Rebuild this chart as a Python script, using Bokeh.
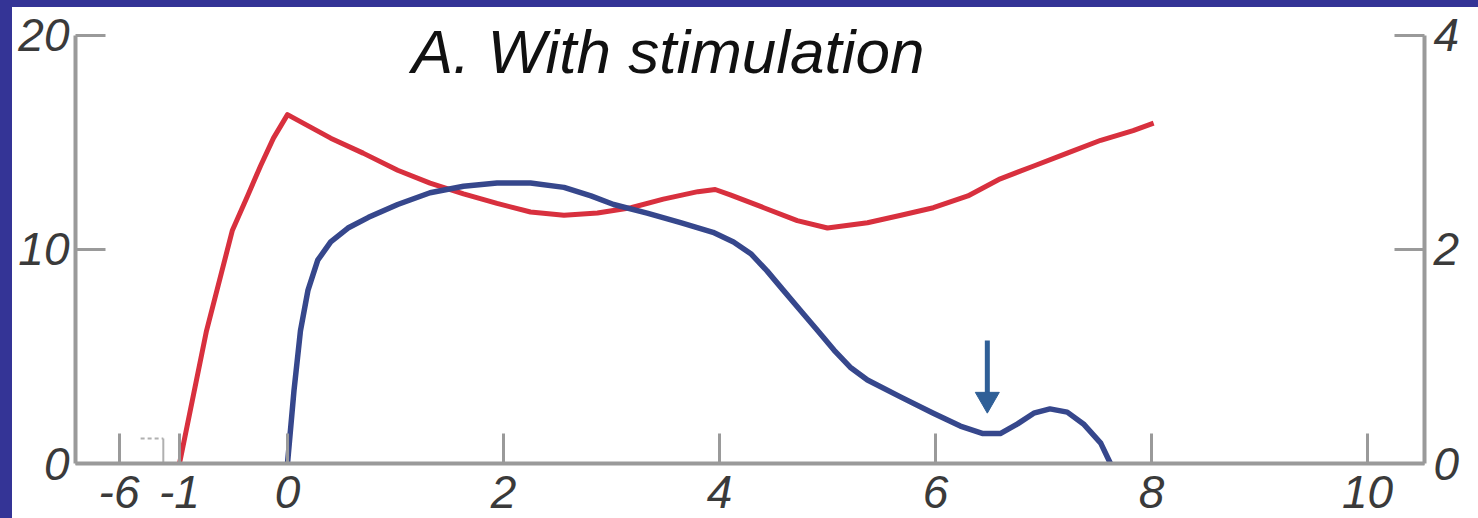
from bokeh.plotting import figure
from bokeh.models import Range1d, LinearAxis, FixedTicker, Spacer
from bokeh.core.properties import value
from bokeh.layouts import row, column
from bokeh.embed import file_html
from bokeh.resources import INLINE

# Red trace (left axis, 0-20), by day
red_days = [-1.0, -0.75, -0.51, -0.37, -0.25, -0.13, 0.0, 0.4, 0.7, 1.02,
            1.32, 1.63, 1.94, 2.25, 2.56, 2.87, 3.18, 3.48, 3.8, 3.96, 4.1, 4.41, 4.72, 5.0,
            5.37, 5.68, 5.98, 6.3, 6.6, 6.91, 7.22, 7.53, 7.83, 8.02]
red_vals = [0.0, 6.2, 10.9, 12.5, 13.9, 15.2, 16.3, 15.2, 14.5, 13.7,
            13.1, 12.6, 12.15, 11.75, 11.6, 11.7, 11.95, 12.35, 12.7, 12.8, 12.55, 11.95, 11.35, 11.0,
            11.25, 11.6, 11.95, 12.5, 13.3, 13.9, 14.5, 15.1, 15.55, 15.9]

# Blue trace (right axis, 0-4), by day
blue_days = [0.0, 0.06, 0.12, 0.19, 0.28, 0.4, 0.56, 0.75, 1.02, 1.32, 1.63, 1.94, 2.25,
             2.56, 2.81, 3.02, 3.33, 3.64, 3.94, 4.13, 4.29, 4.44, 4.59, 4.75, 4.91, 5.06,
             5.21, 5.37, 5.68, 5.98, 6.23, 6.44, 6.6, 6.76, 6.91, 7.06, 7.22, 7.37, 7.53, 7.62]
blue_vals = [0.0, 0.68, 1.24, 1.62, 1.9, 2.07, 2.2, 2.3, 2.42, 2.53, 2.59, 2.62, 2.62,
             2.58, 2.5, 2.42, 2.34, 2.25, 2.16, 2.07, 1.96, 1.8, 1.62, 1.43, 1.24, 1.06,
             0.9, 0.78, 0.62, 0.47, 0.35, 0.28, 0.28, 0.37, 0.47, 0.51, 0.48, 0.37, 0.19, 0.0]

# Marker arrow pointing at the dip of the blue trace (right-axis units)
arrow_day = 6.48
arrow_from = 1.15
arrow_to = 0.5

# Tick positions and labels (axis is broken between -6 and -1)
x_ticks = [-1.56, -1, 0, 2, 4, 6, 8, 10]
x_labels = ["-6", "-1", "0", "2", "4", "6", "8", "10"]
left_ticks = [0, 10, 20]
right_ticks = [0, 2, 4]

TITLE = "A. With stimulation"
FONT = "Liberation Sans"
AXIS = "#9a9a9a"
LABEL = "#3a3a3a"
FRAME_BLUE = "#343496"
ARROW = "#2f5f97"

# the plotting area runs a little above the top tick so the title can sit there
LEFT_MAX, RIGHT_MAX = 20, 4
Y_TOP = 21.07

p = figure(width=1466, height=511, output_backend="svg", toolbar_location=None,
           x_range=Range1d(-1.963, 10.528), y_range=Range1d(0, Y_TOP),
           min_border_left=63, min_border_right=54, min_border_top=5, min_border_bottom=55)
p.outline_line_color = None
p.grid.visible = False
p.background_fill_color = "white"
p.border_fill_color = "white"

p.extra_y_ranges = {"right": Range1d(0, Y_TOP * RIGHT_MAX / LEFT_MAX)}
right_axis = LinearAxis(y_range_name="right")
p.add_layout(right_axis, "right")

for ax in [p.xaxis[0], p.yaxis[0], right_axis]:
    ax.axis_line_color = AXIS
    ax.axis_line_width = 4
    ax.major_tick_line_color = AXIS
    ax.major_tick_line_width = 3
    ax.major_tick_out = 0
    ax.major_tick_in = 30
    ax.minor_tick_line_color = None
    ax.major_label_text_font = FONT
    ax.major_label_text_font_style = "italic"
    ax.major_label_text_font_size = "46px"
    ax.major_label_text_color = LABEL

p.xaxis.ticker = FixedTicker(ticks=x_ticks)
p.xaxis.major_label_overrides = {t: s for t, s in zip(x_ticks, x_labels)}
p.xaxis.major_label_standoff = 12
p.yaxis[0].ticker = FixedTicker(ticks=left_ticks)
p.yaxis[0].bounds = (0, LEFT_MAX)
p.yaxis[0].major_label_standoff = 6
right_axis.ticker = FixedTicker(ticks=right_ticks)
right_axis.bounds = (0, RIGHT_MAX)
right_axis.major_label_standoff = 9

# axis break mark near the left end of the time axis
p.line(x=[-1.36, -1.15], y=[1.17, 1.17], line_color="#b0b0b0", line_width=2, line_dash="4 3")
p.segment(x0=[-1.15], y0=[0], x1=[-1.15], y1=[1.17], line_color="#b0b0b0", line_width=2)

p.line(red_days, red_vals, line_color="#d8303e", line_width=5, line_join="round")
p.line(blue_days, blue_vals, y_range_name="right", line_color="#36478c", line_width=5.5,
       line_join="round")

# arrow: shaft plus a downward triangular head ending at the tip
p.segment(x0=[arrow_day], y0=[arrow_from], x1=[arrow_day], y1=[arrow_to + 0.1],
          y_range_name="right", line_color=ARROW, line_width=5)
p.scatter(x=[arrow_day], y=[arrow_to + 0.1], y_range_name="right", marker="inverted_triangle",
          size=24, fill_color=ARROW, line_color=ARROW)

p.text(x=[1.15], y=[19.25], text=[TITLE], text_font=value(FONT), text_font_style="italic",
       text_font_size="62px", text_color="#111111", text_baseline="alphabetic")

left_bar = Spacer(width=12, height=518, styles={"background-color": FRAME_BLUE})
top_bar = Spacer(width=1466, height=7, styles={"background-color": FRAME_BLUE})
layout = row(left_bar, column(top_bar, p))

open("out.html", "w").write(file_html(layout, INLINE))
